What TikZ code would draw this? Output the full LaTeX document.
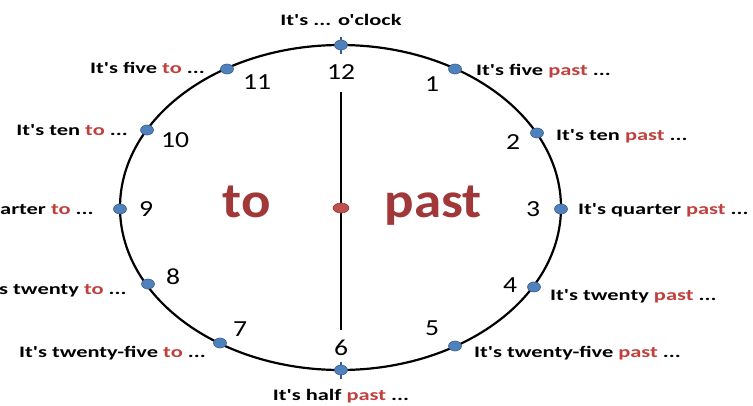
\documentclass[tikz,border=0pt]{standalone}
\usetikzlibrary{shapes.geometric}
\usepackage{fontspec}
\setmainfont{Carlito}
\newfontfamily\lblfont[FakeStretch=1.40]{Carlito}
\newfontfamily\numfont[FakeStretch=1.2]{Carlito}
\newfontfamily\bigfont[FakeStretch=1.1]{Carlito}
\definecolor{dotblue}{HTML}{4F81BD}
\definecolor{dotedge}{HTML}{385D8A}
\definecolor{wordred}{HTML}{C0403D}
\definecolor{bigred}{HTML}{A0383A}
\definecolor{reddot}{HTML}{C0504D}
\definecolor{reddotedge}{HTML}{8C3836}
\tikzset{
  bluedot/.style={ellipse, minimum width=13pt, minimum height=10pt, inner sep=0pt, fill=dotblue, draw=dotedge, line width=0.6pt},
  lbl/.style={font=\lblfont\bfseries\fontsize{16}{16}\selectfont, inner sep=0pt, text=black},
  num/.style={font=\numfont\fontsize{23}{23}\selectfont, inner sep=0pt},
  bigword/.style={font=\bigfont\bfseries\fontsize{50}{50}\selectfont, inner sep=0pt, text=bigred, anchor=base},
}
\newcommand{\rw}[1]{\textcolor{wordred}{#1}}
\begin{document}
\begin{tikzpicture}[x=1pt,y=-1pt]
\useasboundingbox (0,0) rectangle (753,405);
\fill[white] (0,0) rectangle (753,405);
% clock face
\draw[line width=2.2pt] (340.5,207.5) ellipse [x radius=220.5, y radius=162.5];
% hand
\coordinate (handtop) at (341,92);
\coordinate (handbot) at (341,330);
\draw[line width=1.8pt] (handtop) -- (handbot);
% ticks at 12 and 6
\coordinate (t12a) at (341,37);
\coordinate (t12b) at (341,54);
\coordinate (t6a) at (341,362);
\coordinate (t6b) at (341,379);
\draw[line width=1.5pt, dotedge] (t12a) -- (t12b);
\draw[line width=1.5pt, dotedge] (t6a) -- (t6b);
% dots
\node[bluedot] (d12) at (341,45) {};
\node[bluedot] (d1) at (455,69) {};
\node[bluedot] (d2) at (537,133) {};
\node[bluedot] (d3) at (561,209) {};
\node[bluedot] (d4) at (534,287) {};
\node[bluedot] (d5) at (455,346) {};
\node[bluedot] (d6) at (341,370) {};
\node[bluedot] (d7) at (220,343) {};
\node[bluedot] (d8) at (148,284) {};
\node[bluedot] (d9) at (120,209) {};
\node[bluedot] (d10) at (147,130) {};
\node[bluedot] (d11) at (227,69) {};
\node[ellipse, minimum width=16pt, minimum height=10pt, inner sep=0pt, fill=reddot, draw=reddotedge, line width=0.6pt] (ctr) at (341,208) {};
% numbers
\node[num] (n12) at (341,72) {12};
\node[num] (n1) at (432,84) {1};
\node[num] (n2) at (513,142) {2};
\node[num] (n3) at (533,209) {3};
\node[num] (n4) at (510,285) {4};
\node[num] (n5) at (432,328) {5};
\node[num] (n6) at (341,348) {6};
\node[num] (n7) at (240,329) {7};
\node[num] (n8) at (173,277) {8};
\node[num] (n9) at (146,209) {9};
\node[num] (n10) at (175,140) {10};
\node[num] (n11) at (257,82) {11};
% big words
\node[bigword] (wto) at (247,217) {to};
\node[bigword] (wpast) at (433,217) {past};
% labels
\node[lbl, anchor=base] (l12) at (341,25) {It's ... o'clock};
\node[lbl, anchor=base east] (l11) at (205,73) {It's five \rw{to} ...};
\node[lbl, anchor=base east] (l10) at (128,135) {It's ten \rw{to} ...};
\node[lbl, anchor=base west] (l9) at (0,214) {arter \rw{to} ...};
\node[lbl, anchor=base west] (l8) at (-1,294) {s twenty \rw{to} ...};
\node[lbl, anchor=base east] (l7) at (206,357) {It's twenty-five \rw{to} ...};
\node[lbl, anchor=base] (l6) at (341,400) {It's half \rw{past} ...};
\node[lbl, anchor=base west] (l1) at (476,75) {It's five \rw{past} ...};
\node[lbl, anchor=base west] (l2) at (556,140) {It's ten \rw{past} ...};
\node[lbl, anchor=base west] (l3) at (578,214) {It's quarter \rw{past} ...};
\node[lbl, anchor=base west] (l4) at (550,300) {It's twenty \rw{past} ...};
\node[lbl, anchor=base west] (l5) at (474,357) {It's twenty-five \rw{past} ...};
\end{tikzpicture}
\end{document}
